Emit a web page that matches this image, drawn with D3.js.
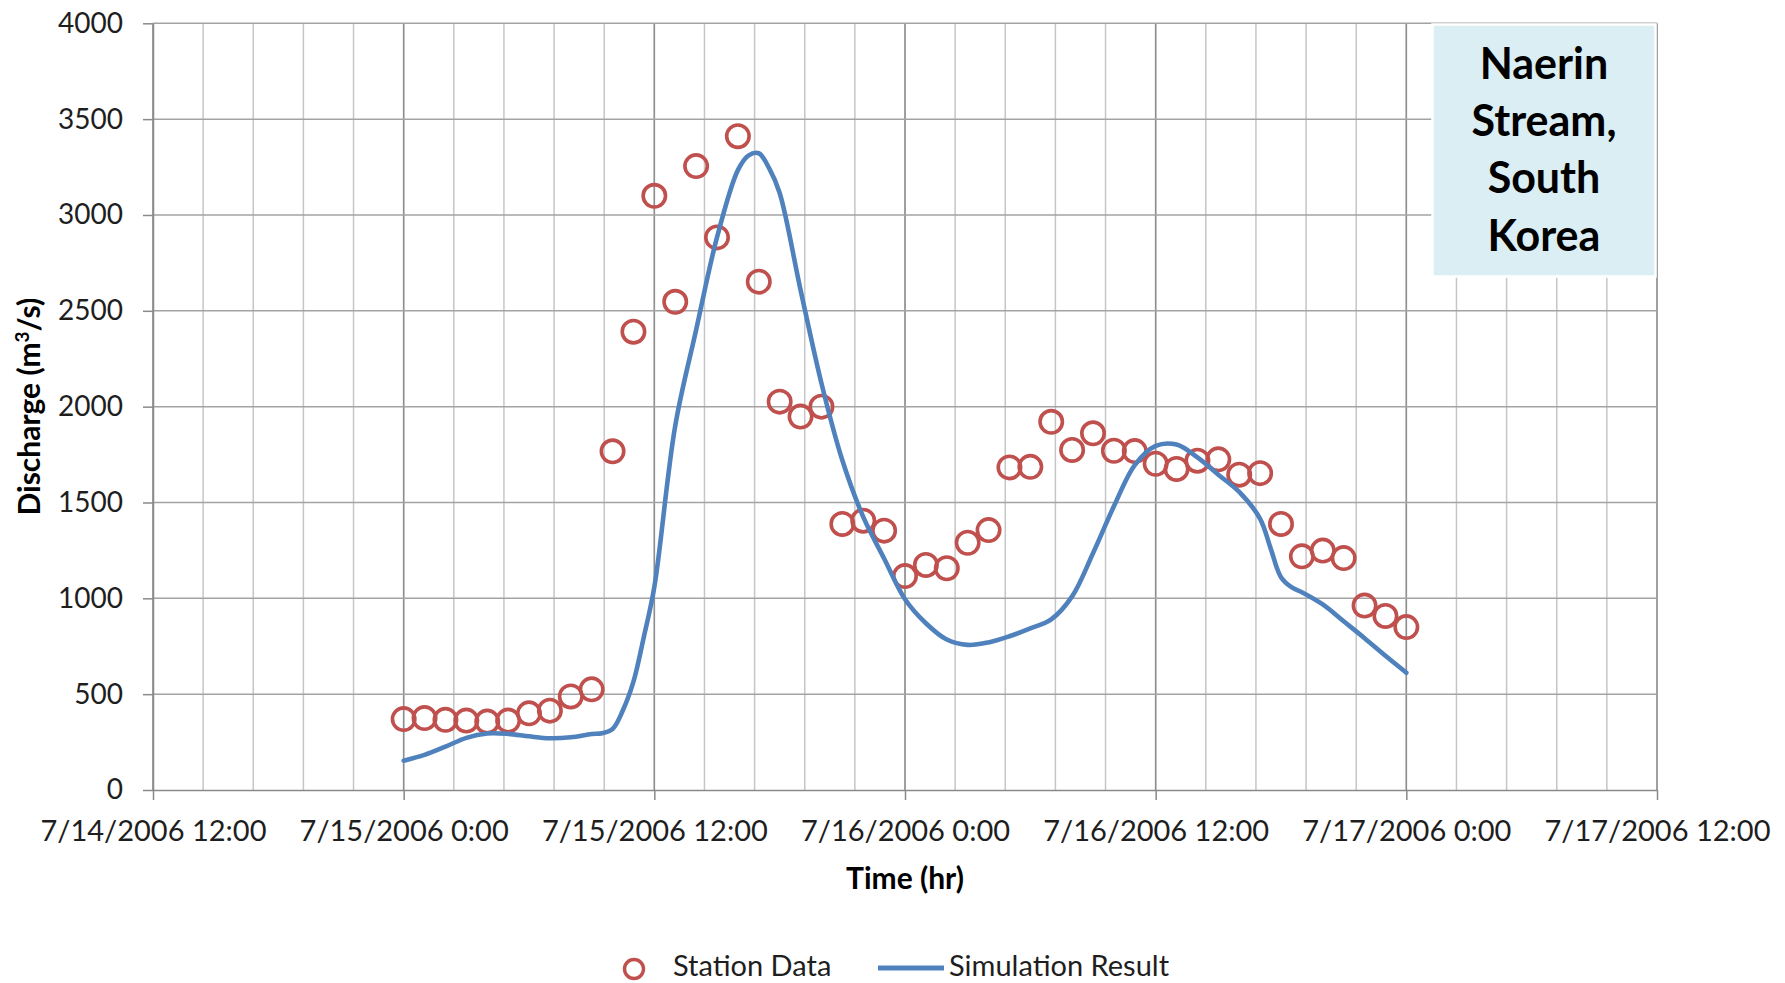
<!DOCTYPE html>
<html>
<head>
<meta charset="utf-8">
<script src="https://cdn.jsdelivr.net/npm/d3@7"></script>
<style>
  html, body { margin: 0; padding: 0; background: #fff; }
  svg { display: block; font-family: Lato, "Open Sans", sans-serif; }
</style>
</head>
<body>
<svg id="chart" width="1785" height="983"></svg>
<script>
// Observation and model output, Naerin Stream flood event, July 2006.
// Times are hours after 7/15/2006 0:00.
const stationHours = [0, 1, 2, 3, 4, 5, 6, 7, 8, 9, 10, 11, 12, 13, 14, 15, 16, 17, 18, 19, 20, 21, 22, 23, 24,
  25, 26, 27, 28, 29, 30, 31, 32, 33, 34, 35, 36, 37, 38, 39, 40, 41, 42, 43, 44, 45, 46, 47, 48];
const stationDischarge = [370, 375, 366, 362, 357, 362, 400, 414, 488, 525, 1767, 2391, 3100, 2547, 3255, 2883,
  3411, 2652, 2026, 1948, 2000, 1388, 1405, 1353, 1116, 1174, 1157, 1290, 1356, 1683, 1686, 1921, 1774, 1861,
  1770, 1768, 1702, 1675, 1718, 1725, 1645, 1653, 1388, 1219, 1249, 1210, 962, 908, 850];

const simHours = [0, 1, 2, 3, 4, 5, 6, 7, 8, 9, 9.5, 10, 10.5, 11, 11.5, 12, 13, 14, 15, 16, 16.5, 17,
  17.5, 18, 19, 20, 21, 22, 23, 24, 25, 26, 27, 28, 29, 30, 31, 32, 33, 34, 35, 36, 37, 38, 39, 40, 41, 41.5,
  42, 42.5, 43, 44, 45, 46, 47, 48];
const simDischarge = [153, 183, 226, 272, 295, 293, 280, 270, 275, 292, 296, 318, 417, 565, 800, 1060,
  1900, 2400, 2883, 3234, 3310, 3322, 3243, 3115, 2609, 2122, 1720, 1425, 1208, 995, 870, 785, 757, 770, 802,
  843, 890, 1010, 1235, 1480, 1695, 1795, 1802, 1735, 1645, 1555, 1415, 1262, 1110, 1058, 1032, 968, 880, 792,
  700, 612];

const yTicks = [0, 500, 1000, 1500, 2000, 2500, 3000, 3500, 4000];
const seriesNames = ["Station Data", "Simulation Result"];
const siteLabel = ["Naerin", "Stream,", "South", "Korea"];

const startTime = new Date(2006, 6, 15, 0, 0);
const axisStart = new Date(2006, 6, 14, 12, 0);
const axisEnd = new Date(2006, 6, 17, 12, 0);

const atHour = h => new Date(startTime.getTime() + h * 3600e3);

const svg = d3.select("#chart");
const plot = { left: 153, right: 1657, top: 23.3, bottom: 790 };

const x = d3.scaleTime().domain([axisStart, axisEnd]).range([plot.left, plot.right]);
const y = d3.scaleLinear().domain([0, 4000]).range([plot.bottom, plot.top]);

const red = "#C0504D", blue = "#4F81BD";

// Vertical gridlines: minor every 0.1 day, major every half day
const spanHours = (axisEnd - axisStart) / 3600e3;
const minorTimes = d3.range(0, spanHours + 0.01, 2.4).map(h => new Date(axisStart.getTime() + h * 3600e3));
const majorTimes = d3.timeHour.every(12).range(axisStart, new Date(axisEnd.getTime() + 1));

const grid = svg.append("g");
grid.selectAll("line.vminor").data(minorTimes).join("line")
  .attr("x1", d => x(d)).attr("x2", d => x(d))
  .attr("y1", plot.top).attr("y2", plot.bottom)
  .attr("stroke", "#c6c6c6").attr("stroke-width", 1.5);
grid.selectAll("line.vmajor").data(majorTimes).join("line")
  .attr("x1", d => x(d)).attr("x2", d => x(d))
  .attr("y1", plot.top).attr("y2", plot.bottom)
  .attr("stroke", "#8e8e8e").attr("stroke-width", 1.5);
grid.selectAll("line.h").data(yTicks.filter(v => v > 0)).join("line")
  .attr("x1", plot.left).attr("x2", plot.right)
  .attr("y1", d => y(d)).attr("y2", d => y(d))
  .attr("stroke", "#a3a3a3").attr("stroke-width", 1.5);

// Axes
const fmt = d3.timeFormat("%-m/%-d/%Y %-H:%M");
const xAxis = d3.axisBottom(x).tickValues(majorTimes).tickSize(10).tickSizeOuter(0).tickPadding(20).tickFormat(fmt);
const yAxis = d3.axisLeft(y).tickValues(yTicks).tickSize(10).tickSizeOuter(0).tickPadding(20).tickFormat(d3.format("d"));

const gx = svg.append("g").attr("transform", `translate(0,${plot.bottom})`).call(xAxis);
const gy = svg.append("g").attr("transform", `translate(${plot.left},0)`).call(yAxis);
[gx, gy].forEach(g => {
  g.select(".domain").attr("stroke", "#8a8a8a").attr("stroke-width", 1.5);
  g.selectAll(".tick line").attr("stroke", "#8a8a8a").attr("stroke-width", 1.5);
  g.selectAll("text").attr("fill", "#1e1e1e").attr("font-family", "Lato, sans-serif");
});
gx.selectAll("text").attr("font-size", 29).attr("dy", "0.71em");
gy.selectAll("text").attr("font-size", 28);

// Axis titles
svg.append("text")
  .attr("x", (plot.left + plot.right) / 2).attr("y", 889)
  .attr("text-anchor", "middle").attr("font-size", 30).attr("font-weight", "bold").attr("fill", "#000")
  .text("Time (hr)");
const yTitle = svg.append("text")
  .attr("transform", `translate(40,${(plot.top + plot.bottom) / 2}) rotate(-90)`)
  .attr("text-anchor", "middle").attr("font-size", 30).attr("font-weight", "bold").attr("fill", "#000");
yTitle.append("tspan").text("Discharge (m");
yTitle.append("tspan").attr("font-size", 19).attr("dy", -11).text("3");
yTitle.append("tspan").attr("dy", 11).text("/s)");

// Station observations
const stationData = stationHours.map((h, i) => ({ t: atHour(h), v: stationDischarge[i] }));
svg.append("g").selectAll("circle").data(stationData).join("circle")
  .attr("cx", d => x(d.t)).attr("cy", d => y(d.v)).attr("r", 11.2)
  .attr("fill", "none").attr("stroke", red).attr("stroke-width", 3.6);

// Simulated hydrograph
const simData = simHours.map((h, i) => ({ t: atHour(h), v: simDischarge[i] }));
const line = d3.line().x(d => x(d.t)).y(d => y(d.v)).curve(d3.curveCatmullRom.alpha(0.5));
svg.append("path").datum(simData).attr("d", line)
  .attr("fill", "none").attr("stroke", blue).attr("stroke-width", 4.6)
  .attr("stroke-linejoin", "round").attr("stroke-linecap", "round");

// Site label box
const box = { x: 1432.5, y: 24.5, w: 223, h: 252 };
svg.append("rect").attr("x", box.x).attr("y", box.y).attr("width", box.w).attr("height", box.h)
  .attr("fill", "#DAEEF3").attr("stroke", "#fff").attr("stroke-width", 2.5);
svg.append("g").selectAll("text").data(siteLabel).join("text")
  .attr("x", box.x + box.w / 2).attr("y", (d, i) => 79 + i * 57.2)
  .attr("text-anchor", "middle").attr("font-size", 43).attr("font-weight", "bold").attr("fill", "#000")
  .text(d => d);

// Legend
const legend = svg.append("g").attr("font-size", 29).attr("fill", "#1e1e1e");
legend.append("circle").attr("cx", 634).attr("cy", 969).attr("r", 9.5)
  .attr("fill", "none").attr("stroke", red).attr("stroke-width", 3.4);
legend.append("text").attr("x", 673).attr("y", 976).text(seriesNames[0]);
legend.append("line").attr("x1", 878).attr("x2", 944).attr("y1", 968).attr("y2", 968)
  .attr("stroke", blue).attr("stroke-width", 5);
legend.append("text").attr("x", 949).attr("y", 976).text(seriesNames[1]);
</script>
</body>
</html>
